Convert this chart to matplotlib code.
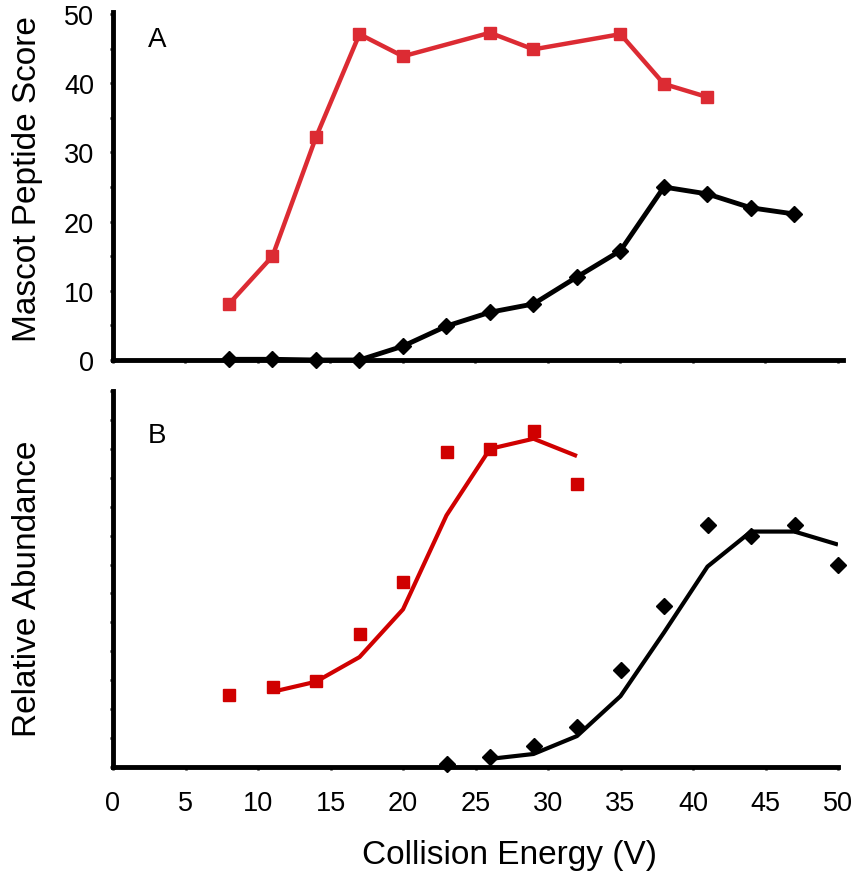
import matplotlib
matplotlib.use("Agg")
import matplotlib.pyplot as plt
from matplotlib.ticker import MultipleLocator

plt.rcParams['font.family'] = ['Liberation Sans', 'DejaVu Sans']

# ---- Panel A data: Mascot peptide score ----
a_red_x = [8, 11, 14, 17, 20, 26, 29, 35, 38, 41]
a_red_y = [8.1, 15.0, 32.2, 47.1, 43.9, 47.3, 44.9, 47.1, 39.9, 38.0]
a_blk_x = [8, 11, 14, 17, 20, 23, 26, 29, 32, 35, 38, 41, 44, 47]
a_blk_y = [0.1, 0.1, 0.0, 0.0, 2.0, 4.9, 6.9, 8.1, 12.0, 15.8, 25.0, 24.0, 22.0, 21.1]

# ---- Panel B data: relative abundance (points and fitted lines) ----
b_red_x = [8, 11, 14, 17, 20, 23, 26, 29, 32]
b_red_y = [2.5, 2.75, 2.97, 4.6, 6.4, 10.9, 11.0, 11.6, 9.8]
b_red_fit_x = [11, 14, 17, 20, 23, 26, 29, 32]
b_red_fit_y = [2.6, 2.95, 3.8, 5.45, 8.7, 11.0, 11.35, 10.75]
b_blk_x = [23, 26, 29, 32, 35, 38, 41, 44, 47, 50]
b_blk_y = [0.1, 0.35, 0.72, 1.38, 3.34, 5.55, 8.38, 7.97, 8.38, 7.0]
b_blk_fit_x = [26, 29, 32, 35, 38, 41, 44, 47, 50]
b_blk_fit_y = [0.28, 0.45, 1.07, 2.45, 4.65, 6.93, 8.14, 8.14, 7.69]

x_ticks = [0, 5, 10, 15, 20, 25, 30, 35, 40, 45, 50]
a_y_ticks = [0, 10, 20, 30, 40, 50]

RED_A = '#DC2B33'
RED_B = '#D00000'

W, H = 868, 878
fig = plt.figure(figsize=(W / 100, H / 100), dpi=100)

def frac(l, t, r, b):
    return [l / W, 1 - b / H, (r - l) / W, (b - t) / H]

axA = fig.add_axes(frac(113, 13, 843, 361))
axB = fig.add_axes(frac(113, 392, 838, 768))

for ax in (axA, axB):
    for s in ('top', 'right'):
        ax.spines[s].set_visible(False)
    for s in ('left', 'bottom'):
        ax.spines[s].set_linewidth(3.5)
        ax.spines[s].set_capstyle('projecting')
    ax.tick_params(axis='both', which='both', direction='out', length=2.5,
                   width=1.8, labelsize=19.5, colors='black')

# Panel A
axA.plot(a_red_x, a_red_y, color=RED_A, lw=3.2, marker='s', ms=8,
         mec=RED_A, mfc=RED_A, zorder=3, clip_on=False)
axA.plot(a_blk_x, a_blk_y, color='black', lw=3.5, marker='D', ms=8,
         mec='black', mfc='black', zorder=4, clip_on=False)
axA.set_xlim(0, 50.35)
axA.set_ylim(0, 50.3)
axA.set_yticks(a_y_ticks)
axA.yaxis.set_minor_locator(MultipleLocator(5))
axA.xaxis.set_major_locator(MultipleLocator(5))
axA.set_xticklabels([])
axA.tick_params(axis='y', which='major', pad=11)
axA.text(157 / W, 1 - 40 / H, 'A', transform=fig.transFigure, fontsize=20,
         ha='center', va='center')

# Panel B
axB.plot(b_red_fit_x, b_red_fit_y, color=RED_B, lw=3.0, zorder=3,
         solid_capstyle='butt', solid_joinstyle='round')
axB.plot(b_red_x, b_red_y, ls='none', marker='s', ms=8, color=RED_B,
         zorder=4, clip_on=False)
axB.plot(b_blk_fit_x, b_blk_fit_y, color='black', lw=3.0, zorder=3,
         solid_capstyle='butt', solid_joinstyle='round')
axB.plot(b_blk_x, b_blk_y, ls='none', marker='D', ms=8.5, color='black',
         zorder=4, clip_on=False)
axB.set_xlim(0, 50)
axB.set_ylim(0, 13)
axB.set_xticks(x_ticks)
axB.set_xticklabels([str(v) for v in x_ticks])
axB.yaxis.set_major_locator(MultipleLocator(1))
axB.set_yticklabels([])
axB.tick_params(axis='x', which='major', pad=14)
axB.text(157 / W, 1 - 436 / H, 'B', transform=fig.transFigure, fontsize=20,
         ha='center', va='center')

# Axis titles
fig.text(28 / W, 1 - 179 / H, 'Mascot Peptide Score', rotation=90,
         fontsize=24, ha='center', va='center')
fig.text(28 / W, 1 - 589 / H, 'Relative Abundance', rotation=90,
         fontsize=24, ha='center', va='center')
fig.text(509 / W, 1 - 856 / H, 'Collision Energy (V)', fontsize=24,
         ha='center', va='center')

fig.savefig('out.png', dpi=100)
